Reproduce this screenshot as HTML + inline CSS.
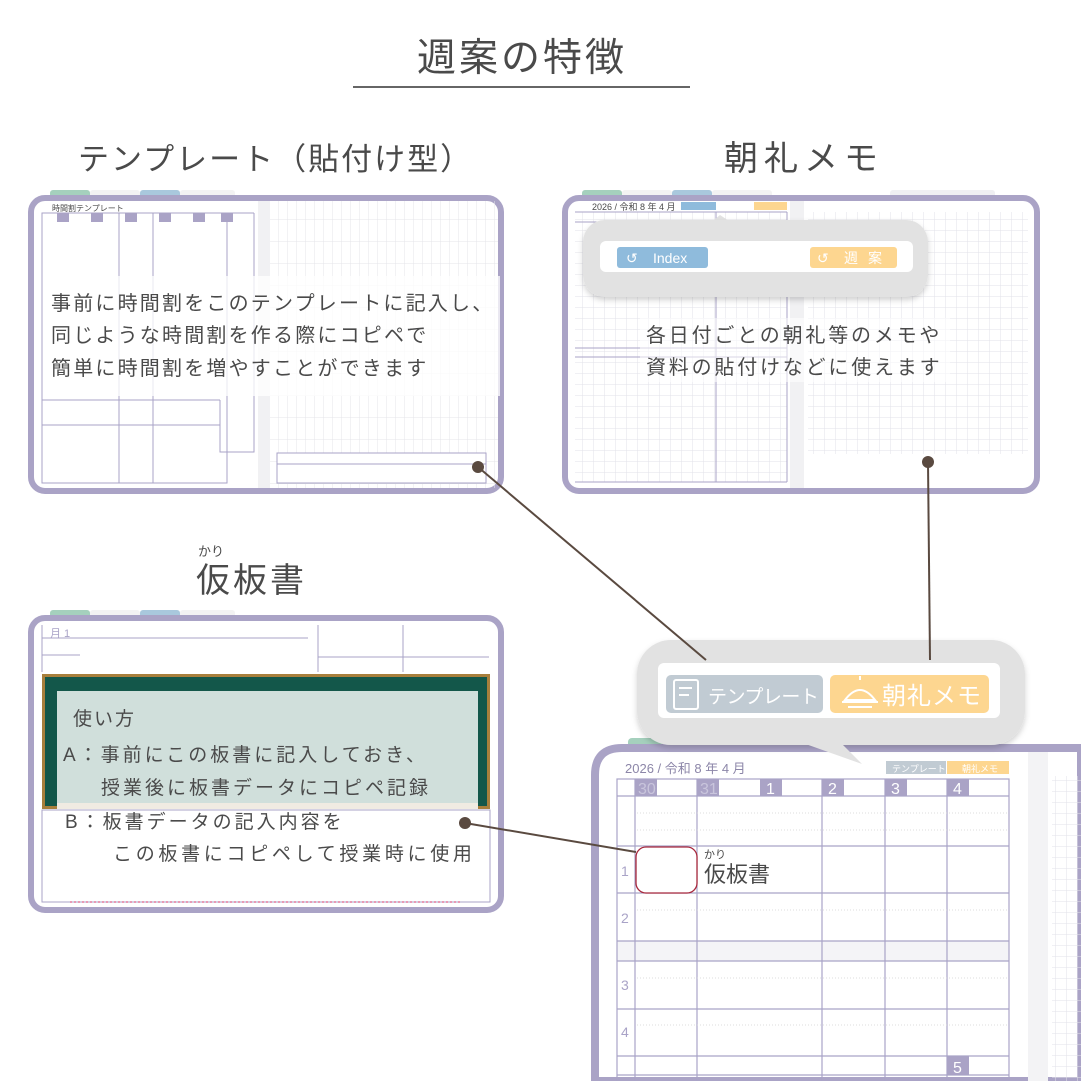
<!DOCTYPE html>
<html><head><meta charset="utf-8"><style>
html,body{margin:0;padding:0;background:#fff;}
svg text{font-family:"Liberation Sans","Noto Sans CJK JP",sans-serif;fill:#4a4a4a;}
</style></head><body>
<svg width="1081" height="1081" viewBox="0 0 1081 1081" xmlns="http://www.w3.org/2000/svg">
<defs>
<pattern id="g2" width="11" height="11" patternUnits="userSpaceOnUse"><path d="M11 0V11M0 11H11" stroke="#e2e2e8" stroke-width="1" fill="none"/></pattern>
<pattern id="g3" width="9" height="22" patternUnits="userSpaceOnUse"><path d="M9 0V22M0 22H9" stroke="#e4e4ea" stroke-width="1" fill="none"/></pattern>
<filter id="sh" x="-10%" y="-10%" width="120%" height="130%"><feDropShadow dx="0" dy="3" stdDeviation="3" flood-color="#000" flood-opacity="0.18"/></filter>
</defs>

<text x="522" y="71" font-size="39" text-anchor="middle" letter-spacing="3">週案の特徴</text>
<line x1="353" y1="87" x2="690" y2="87" stroke="#666" stroke-width="2"/>

<text x="78" y="170" font-size="31" letter-spacing="2">テンプレート（貼付け型）</text>
<text x="724" y="170" font-size="34" letter-spacing="6">朝礼メモ</text>
<text x="198" y="556" font-size="13">かり</text>
<text x="196" y="592" font-size="34" letter-spacing="3">仮板書</text>

<!-- Panel 1 -->
<g>
<rect x="50" y="190" width="40" height="9" rx="3" fill="#a5d0bd"/>
<rect x="90" y="190" width="50" height="9" rx="3" fill="#f3f3f3"/>
<rect x="140" y="190" width="40" height="9" rx="3" fill="#a9c8dd"/>
<rect x="180" y="190" width="55" height="9" rx="3" fill="#f3f3f3"/>
<rect x="31" y="198" width="470" height="293" rx="14" fill="#fff" stroke="#aaa3c6" stroke-width="6"/>
<rect x="258" y="201" width="12" height="287" fill="#f1f1f3"/>
<rect x="270" y="201" width="228" height="287" fill="url(#g3)"/>
<rect x="42" y="213" width="185" height="270" fill="none" stroke="#a9a3c7" stroke-width="1"/>
<line x1="119" y1="213" x2="119" y2="483" stroke="#a9a3c7"/>
<line x1="153" y1="213" x2="153" y2="483" stroke="#a9a3c7"/>
<line x1="42" y1="400" x2="220" y2="400" stroke="#a9a3c7"/>
<line x1="42" y1="425" x2="220" y2="425" stroke="#a9a3c7"/>
<polyline points="220,400 220,452 254,452 254,213" fill="none" stroke="#a9a3c7"/>
<line x1="227" y1="213" x2="254" y2="213" stroke="#a9a3c7"/>
<g fill="#aaa3c6"><rect x="57" y="213" width="12" height="9"/><rect x="91" y="213" width="12" height="9"/><rect x="125" y="213" width="12" height="9"/><rect x="159" y="213" width="12" height="9"/><rect x="193" y="213" width="12" height="9"/><rect x="221" y="213" width="12" height="9"/></g>
<text x="52" y="211" font-size="8" fill="#999">時間割テンプレート</text>
<rect x="277" y="453" width="209" height="30" fill="#fff" stroke="#a9a3c7"/>
<line x1="277" y1="464" x2="486" y2="464" stroke="#a9a3c7"/>
<rect x="43" y="276" width="457" height="120" fill="#fff" opacity="0.75"/>
<text x="51" y="310" font-size="20" letter-spacing="2.2">事前に時間割をこのテンプレートに記入し、</text>
<text x="51" y="342" font-size="20" letter-spacing="2.2">同じような時間割を作る際にコピペで</text>
<text x="51" y="375" font-size="20" letter-spacing="2.2">簡単に時間割を増やすことができます</text>
</g>

<!-- Panel 2 -->
<g>
<rect x="582" y="190" width="40" height="9" rx="3" fill="#a5d0bd"/>
<rect x="622" y="190" width="50" height="9" rx="3" fill="#f3f3f3"/>
<rect x="672" y="190" width="40" height="9" rx="3" fill="#a9c8dd"/>
<rect x="712" y="190" width="60" height="9" rx="3" fill="#f3f3f3"/>
<rect x="890" y="190" width="105" height="9" rx="3" fill="#efeff2"/>
<rect x="565" y="198" width="472" height="293" rx="14" fill="#fff" stroke="#aaa3c6" stroke-width="6"/>
<rect x="575" y="212" width="212" height="270" fill="url(#g2)"/>
<rect x="790" y="201" width="14" height="287" fill="#f1f1f3"/>
<rect x="808" y="212" width="220" height="242" fill="url(#g2)"/>
<line x1="575" y1="212" x2="787" y2="212" stroke="#a9a3c7"/>
<line x1="575" y1="222" x2="787" y2="222" stroke="#a9a3c7"/>
<line x1="575" y1="348" x2="787" y2="348" stroke="#a9a3c7"/>
<line x1="575" y1="357" x2="787" y2="357" stroke="#a9a3c7"/>
<line x1="716" y1="212" x2="716" y2="482" stroke="#a9a3c7"/>
<line x1="787" y1="212" x2="787" y2="482" stroke="#a9a3c7"/>
<line x1="575" y1="482" x2="787" y2="482" stroke="#a9a3c7"/>
<text x="592" y="210" font-size="9" fill="#999">2026 / 令和 8 年  4 月</text>
<rect x="681" y="202" width="35" height="8" fill="#8fbbdc"/>
<rect x="754" y="202" width="33" height="8" fill="#fdd690"/>
<path d="M720 215 L735 225 L708 225 Z" fill="#e2e2e2"/>
<rect x="583" y="220" width="345" height="77" rx="22" fill="#e2e2e2" filter="url(#sh)"/>
<rect x="600" y="241" width="313" height="31" rx="6" fill="#fff"/>
<rect x="617" y="247" width="91" height="21" rx="3" fill="#8fbbdc"/>
<rect x="810" y="247" width="87" height="21" rx="3" fill="#fdd690"/>
<text x="626" y="263" font-size="14" style="fill:#fff">↺</text>
<text x="653" y="263" font-size="14" style="fill:#fff">Index</text>
<text x="817" y="263" font-size="14" style="fill:#fff">↺</text>
<text x="844" y="263" font-size="14" letter-spacing="10" style="fill:#fff">週案</text>
<rect x="640" y="318" width="310" height="64" fill="#fff" opacity="0.55"/>
<text x="646" y="342" font-size="20" letter-spacing="2.8">各日付ごとの朝礼等のメモや</text>
<text x="646" y="374" font-size="20" letter-spacing="2.8">資料の貼付けなどに使えます</text>
</g>

<!-- Panel 3 -->
<g>
<rect x="50" y="610" width="40" height="9" rx="3" fill="#a5d0bd"/>
<rect x="90" y="610" width="50" height="9" rx="3" fill="#f3f3f3"/>
<rect x="140" y="610" width="40" height="9" rx="3" fill="#a9c8dd"/>
<rect x="180" y="610" width="55" height="9" rx="3" fill="#f3f3f3"/>
<rect x="31" y="618" width="470" height="292" rx="14" fill="#fff" stroke="#aaa3c6" stroke-width="6"/>
<line x1="42" y1="638" x2="308" y2="638" stroke="#a9a3c7"/>
<line x1="42" y1="655" x2="80" y2="655" stroke="#a9a3c7"/>
<line x1="42" y1="625" x2="42" y2="672" stroke="#a9a3c7"/>
<line x1="318" y1="625" x2="318" y2="672" stroke="#a9a3c7"/>
<line x1="403" y1="625" x2="403" y2="672" stroke="#a9a3c7"/>
<line x1="318" y1="657" x2="489" y2="657" stroke="#a9a3c7"/>
<text x="50" y="637" font-size="11" style="fill:#a9a3c7">月 1</text>
<rect x="42" y="674" width="448" height="135" fill="#a87f3c"/>
<rect x="45" y="677" width="442" height="129" fill="#13574a"/>
<rect x="57" y="691" width="421" height="117" fill="#d0dfdb"/>
<rect x="57" y="803" width="421" height="6" fill="#f0ebe2"/>
<rect x="42" y="810" width="448" height="92" fill="#fff" stroke="#a9a3c7"/>
<line x1="70" y1="902" x2="460" y2="902" stroke="#e89bb5" stroke-dasharray="2 2" stroke-width="2"/>
<text x="73" y="725" font-size="19" letter-spacing="2">使い方</text>
<text x="63" y="761" font-size="19" letter-spacing="3">A：事前にこの板書に記入しておき、</text>
<text x="101" y="794" font-size="19" letter-spacing="3">授業後に板書データにコピペ記録</text>
<text x="65" y="828" font-size="19" letter-spacing="3">B：板書データの記入内容を</text>
<text x="113" y="860" font-size="19" letter-spacing="3.7">この板書にコピペして授業時に使用</text>
</g>

<!-- Panel 4 -->
<g>
<rect x="628" y="738" width="70" height="12" rx="4" fill="#a5d0bd"/>
<rect x="698" y="738" width="100" height="12" rx="4" fill="#f3f3f3"/>
<rect x="798" y="738" width="70" height="12" rx="4" fill="#a9c8dd"/>
<rect x="868" y="738" width="110" height="12" rx="4" fill="#f3f3f3"/>
<path d="M595 1081 V775 Q595 748 622 748 H1081 V1081 Z" fill="#fff" stroke="#aaa3c6" stroke-width="8"/>
<rect x="1028" y="752" width="20" height="329" fill="#f3f3f5"/>
<rect x="1052" y="776" width="29" height="305" fill="url(#g2)"/>
<text x="625" y="773" font-size="13" style="fill:#8c86a8">2026 / 令和 8 年  4 月</text>
<rect x="886" y="761" width="60" height="13" fill="#c1cbd3"/>
<rect x="947" y="761" width="62" height="13" fill="#fdd690"/>
<text x="892" y="772" font-size="9" style="fill:#fff">テンプレート</text>
<text x="962" y="772" font-size="9" style="fill:#fff">朝礼メモ</text>
<g fill="#aaa3c6">
<rect x="635" y="779" width="22" height="17"/><rect x="697" y="779" width="22" height="17"/><rect x="760" y="779" width="22" height="17"/><rect x="822" y="779" width="22" height="17"/><rect x="885" y="779" width="22" height="17"/><rect x="947" y="779" width="22" height="17"/><rect x="947" y="1056" width="22" height="19"/>
</g>
<rect x="617" y="941" width="392" height="20" fill="#f4f4f7"/>
<g font-size="16">
<text x="638" y="794" style="fill:#c9c5dc">30</text><text x="700" y="794" style="fill:#c9c5dc">31</text><text x="766" y="794" style="fill:#fff">1</text><text x="828" y="794" style="fill:#fff">2</text><text x="891" y="794" style="fill:#fff">3</text><text x="953" y="794" style="fill:#fff">4</text><text x="953" y="1073" style="fill:#fff">5</text>
</g>
<g stroke="#a9a3c7" stroke-width="1.2" fill="none">
<rect x="617" y="779" width="392" height="302"/>
<line x1="635" y1="779" x2="635" y2="1081"/><line x1="697" y1="779" x2="697" y2="1081"/><line x1="822" y1="779" x2="822" y2="1081"/><line x1="885" y1="779" x2="885" y2="1081"/><line x1="947" y1="779" x2="947" y2="1081"/>
<line x1="617" y1="796" x2="1009" y2="796"/><line x1="617" y1="846" x2="1009" y2="846"/><line x1="617" y1="893" x2="1009" y2="893"/><line x1="617" y1="941" x2="1009" y2="941"/><line x1="617" y1="961" x2="1009" y2="961"/><line x1="617" y1="1009" x2="1009" y2="1009"/><line x1="617" y1="1056" x2="1009" y2="1056"/><line x1="617" y1="1075" x2="1009" y2="1075"/>
</g>
<g stroke="#ddd" stroke-dasharray="1 2">
<line x1="637" y1="813" x2="1009" y2="813"/><line x1="637" y1="830" x2="1009" y2="830"/><line x1="637" y1="910" x2="1009" y2="910"/><line x1="637" y1="978" x2="1009" y2="978"/><line x1="637" y1="1025" x2="1009" y2="1025"/>
</g>
<g font-size="14"><text x="621" y="876" style="fill:#a9a3c7">1</text><text x="621" y="923" style="fill:#a9a3c7">2</text><text x="621" y="990" style="fill:#a9a3c7">3</text><text x="621" y="1037" style="fill:#a9a3c7">4</text></g>
<rect x="636" y="847" width="61" height="46" rx="10" fill="#fff" stroke="#a8283c" stroke-width="1.3"/>
<text x="704" y="858" font-size="11">かり</text>
<text x="704" y="882" font-size="22">仮板書</text>
</g>

<!-- Big bubble -->
<g>
<rect x="637" y="640" width="388" height="105" rx="34" fill="#e2e2e2" filter="url(#sh)"/>
<path d="M800 742 L862 764 L840 742 Z" fill="#e2e2e2"/>
<rect x="658" y="663" width="342" height="55" rx="6" fill="#fff"/>
<rect x="666" y="675" width="157" height="38" rx="5" fill="#c1cbd3"/>
<rect x="830" y="675" width="159" height="38" rx="5" fill="#fdd690"/>
<g stroke="#fff" stroke-width="2" fill="none">
<rect x="674" y="680" width="24" height="29" rx="2"/><line x1="679" y1="688" x2="692" y2="688"/><line x1="679" y1="695" x2="689" y2="695"/>
<path d="M845 700 Q860 680 875 700 Z"/><line x1="842" y1="702" x2="878" y2="702"/><line x1="848" y1="707" x2="872" y2="707"/><line x1="860" y1="680" x2="860" y2="676"/>
</g>
<text x="708" y="703" font-size="19" letter-spacing="-0.5" style="fill:#fff">テンプレート</text>
<text x="882" y="704" font-size="24" letter-spacing="1" style="fill:#fff">朝礼メモ</text>
</g>

<!-- Connectors -->
<g stroke="#5a4a40" stroke-width="2" fill="none">
<line x1="478" y1="467" x2="706" y2="660"/>
<line x1="928" y1="462" x2="930" y2="660"/>
<line x1="465" y1="823" x2="636" y2="852"/>
</g>
<g fill="#5a4a40"><circle cx="478" cy="467" r="6"/><circle cx="928" cy="462" r="6"/><circle cx="465" cy="823" r="6"/></g>
</svg>
</body></html>
